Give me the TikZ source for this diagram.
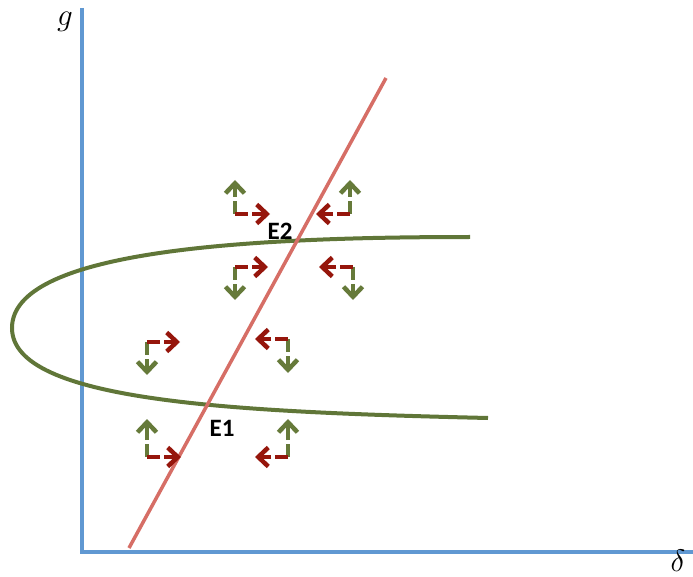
\documentclass[tikz,border=0pt]{standalone}
\usepackage{amsmath}
\usepackage{fontspec}
\usepackage{tikz}
\usetikzlibrary{arrows.meta}
\newfontfamily\labelfont{Carlito}
\definecolor{axisblue}{RGB}{96,152,210}
\definecolor{linered}{RGB}{214,110,102}
\definecolor{curvegreen}{RGB}{96,118,56}
\definecolor{flowgreen}{RGB}{102,122,58}
\definecolor{flowred}{RGB}{150,22,12}
\tikzset{
  flow/.style={line width=4.5pt, dash pattern=on 13pt off 4pt on 40pt off 1pt,
    -{Straight Barb[length=10pt,width=19pt,line width=4.5pt]}},
  eqlabel/.style={font=\labelfont\bfseries\fontsize{25}{25}\selectfont},
  axislabel/.style={font=\Huge, scale=1.25, inner sep=0pt}
}
% corner, vertical end, horizontal end
\newcommand{\flowpair}[3]{%
  \draw[flow,flowgreen] #1 -- #2;
  \draw[flow,flowred] #1 -- #3;
}

\begin{document}
\begin{tikzpicture}[x=1pt,y=-1pt]
  \useasboundingbox (0,0) rectangle (693,577);

  % axes
  \draw[axisblue,line width=4pt] (82,8) -- (82,552) -- (693,552);
  \node[axislabel] (glab) at (65,22) {$g$};
  \node[axislabel] (dlab) at (678,561) {$\delta$};

  % curves
  \draw[curvegreen,line width=4pt] (470,237) .. controls (235,237) and (12,252) .. (12,328)
    .. controls (12,402) and (235,412) .. (488,418);
  \draw[linered,line width=3.5pt] (129,548) -- (386,78);

  \node[eqlabel] (e2) at (280,231) {E2};
  \node[eqlabel] (e1) at (222,428) {E1};

  % arrows round E2
  \flowpair{(235,214)}{(235,180)}{(270,214)}
  \flowpair{(350,214)}{(350,180)}{(316,214)}
  \flowpair{(235,267)}{(235,300)}{(268,267)}
  \flowpair{(353,267)}{(353,300)}{(319,267)}

  % arrows round E1
  \flowpair{(147,342)}{(147,375)}{(180,342)}
  \flowpair{(288,339)}{(288,373)}{(255,339)}
  \flowpair{(147,457)}{(147,419)}{(181,457)}
  \flowpair{(288,457)}{(288,419)}{(255,457)}
\end{tikzpicture}
\end{document}
